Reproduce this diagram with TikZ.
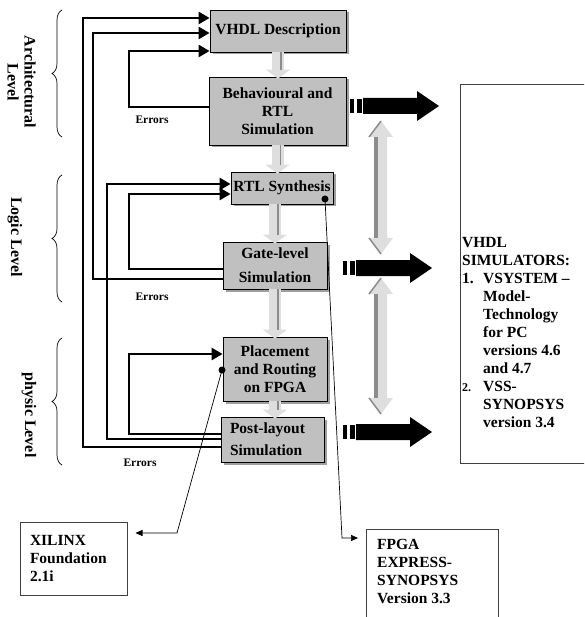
\documentclass[tikz,border=0pt]{standalone}
\usepackage{fontspec}
\setmainfont{Liberation Serif}
\usetikzlibrary{arrows.meta,shadows,decorations.pathreplacing}
\definecolor{boxgray}{RGB}{192,192,192}
\definecolor{lgray}{RGB}{222,222,222}
\definecolor{dgray}{RGB}{140,140,140}
\newcommand\bxfont{\fontsize{15.5}{18}\selectfont\bfseries}
\newcommand\smfont{\fontsize{11.5}{13}\selectfont\bfseries}
\newcommand\blkarrow[2]{%
  \fill[black] (#1,{#2-7}) rectangle ++(4,14);
  \fill[black] ({#1+7},{#2-7}) rectangle ++(5,14);
  \fill[black] ({#1+13},{#2-8}) -- ({#1+67},{#2-8}) -- ({#1+67},{#2-15}) -- ({#1+89},#2)
     -- ({#1+67},{#2+15}) -- ({#1+67},{#2+8}) -- ({#1+13},{#2+8}) -- cycle;}
\newcommand\gdarrow[2]{%
  \fill[lgray] (381,#1) -- (393,{#1+16}) -- (387,{#1+16}) -- (387,{#2-16}) -- (393,{#2-16})
     -- (381,#2) -- (369,{#2-16}) -- (374,{#2-16}) -- (374,{#1+16}) -- (369,{#1+16}) -- cycle;
  \fill[dgray] (374,{#1+16}) rectangle (378,{#2-16});
  \draw[dgray, line width=1.5pt] (369,{#1+16}) -- (381,#1);
  \draw[dgray, line width=1.5pt] (369,{#2-16}) -- (381,#2);}
\begin{document}
\begin{tikzpicture}[x=1pt,y=-1pt,
  stagebox/.style={draw=black, line width=0.8pt, fill=boxgray, inner sep=0pt, align=center, font=\bxfont,
     drop shadow={shadow xshift=2.5pt, shadow yshift=-2.5pt, fill=gray!75, opacity=1}},
  fb/.style={line width=2.5pt},
  fbarrow/.style={fb, -{Triangle[length=11pt,width=12pt]}},
  thinarrow/.style={line width=0.7pt, -{Triangle[length=7pt,width=6pt]}, shorten >=8pt},
  dot/.style={circle, fill=black, inner sep=0pt, minimum size=7pt},
  infobox/.style={draw=black!75, line width=1pt, inner sep=0pt},
  infotext/.style={font=\bxfont, align=left, inner sep=0pt, anchor=north west},
  levelbrace/.style={decorate, decoration={brace, amplitude=10pt}, line width=0.7pt},
  levellabel/.style={rotate=-90, align=center, font=\fontsize{16}{17}\selectfont\bfseries},
  errlabel/.style={font=\smfont},
  garrow/.style={lgray, line width=12pt, -{Triangle[length=9pt,width=24pt]}},
]
\useasboundingbox (0,0) rectangle (584,617);
\clip (0,0) rectangle (584,617);

% stage boxes
\node[stagebox, minimum width=136, minimum height=42] (vhdl) at (278,31) {VHDL Description};
\node[stagebox, minimum width=137, minimum height=68] (beh) at (277.5,111) {Behavioural and\\RTL\\Simulation};
\node[stagebox, minimum width=102, minimum height=32] (rtl) at (282,188) {RTL Synthesis};
\node[stagebox, minimum width=104, minimum height=47] (gate) at (275,265.5) {Gate-level\\[6pt]Simulation};
\node[stagebox, minimum width=104, minimum height=64] (place) at (275,369) {Placement\\and Routing\\on FPGA};
\node[stagebox, minimum width=103, minimum height=45, text width=85pt, align=left, inner xsep=9pt] (post) at (272.5,439.5) {Post-layout\\[4pt]Simulation};

% gray flow arrows between stages
\coordinate (a1s) at (vhdl.south);
\coordinate (a1e) at ([yshift=-2pt]vhdl.south |- beh.north);
\coordinate (a2s) at (beh.south);
\coordinate (a2e) at ([yshift=-2pt]beh.south |- rtl.north);
\coordinate (a3s) at (gate.north |- rtl.south);
\coordinate (a3e) at ([yshift=-2pt]gate.north);
\coordinate (a4s) at (gate.south);
\coordinate (a4e) at ([yshift=-2pt]place.north);
\coordinate (a5s) at (place.south);
\coordinate (a5e) at ([yshift=-2pt]place.south |- post.north);
\foreach \s/\e in {a1s/a1e, a2s/a2e, a3s/a3e, a4s/a4e, a5s/a5e}{
  \draw[garrow] (\s) -- (\e);
  \draw[dgray, line width=1.2pt] ([xshift=3pt]\s) -- ([xshift=3pt, yshift=9pt]\e);
}

% feedback loops
\draw[fbarrow] (post.west |- 0,447) -- (83,447) -- (83,18) -- (vhdl.west |- 0,18);
\draw[fbarrow] (gate.west |- 0,279) -- (93,279) -- (93,33) -- (vhdl.west |- 0,33);
\draw[fbarrow] (beh.west |- 0,107) -- (129,107) -- (129,51) -- (vhdl.west |- 0,51);
\draw[fbarrow] (post.west |- 0,439) -- (107,439) -- (107,184) -- (rtl.west |- 0,184);
\draw[fbarrow] (gate.west |- 0,269) -- (129,269) -- (129,194) -- (rtl.west |- 0,194);
\draw[fbarrow] (post.west |- 0,434) -- (129,434) -- (129,354) -- (place.west |- 0,354);

\node[errlabel] (err1) at (152,120) {Errors};
\node[errlabel] (err2) at (152,297) {Errors};
\node[errlabel] (err3) at (140,463) {Errors};

% level braces and labels
\draw[levelbrace] (62,137) -- (62,10);
\draw[levelbrace] (62,302) -- (62,175);
\draw[levelbrace] (62,465) -- (62,338);
\node[levellabel] (archlbl) at (21.5,82) {Architectural\\Level};
\node[levellabel] (logiclbl) at (15,237) {Logic Level};
\node[levellabel] (physlbl) at (29,415) {physic Level};

% black arrows to simulators
\blkarrow{350}{106}
\blkarrow{343}{268}
\blkarrow{343}{432}

% gray double arrows
\gdarrow{121}{254}
\gdarrow{278}{414}

% simulators box
\node[infobox, minimum width=140, minimum height=379, anchor=north west] (sim) at (460,84) {};
\node[infotext] (simtext) at (462,237) {VHDL\\SIMULATORS:\\\makebox[21pt][l]{1.}VSYSTEM --\\\hspace*{21pt}Model-\\\hspace*{21pt}Technology\\\hspace*{21pt}for PC\\\hspace*{21pt}versions 4.6\\\hspace*{21pt}and 4.7\\\makebox[21pt][l]{\fontsize{12}{14}\selectfont 2.}VSS-\\\hspace*{21pt}SYNOPSYS\\\hspace*{21pt}version 3.4};

% tool boxes
\node[infobox, minimum width=107, minimum height=73, text width=87pt, align=left, inner xsep=10pt, font=\bxfont] (xil) at (73.5,558.5) {XILINX\\Foundation\\2.1i};
\node[infobox, minimum width=132, minimum height=120, anchor=north west] (fpga) at (366,529) {};
\node[infotext] (fpgatext) at (377,539) {FPGA\\EXPRESS-\\SYNOPSYS\\Version 3.3};

% tool links
\node[dot] (d1) at (325,199) {};
\node[dot] (d2) at (222,370) {};
\draw[thinarrow] (d1.center) -- (342,538) -- (fpga.west |- 0,538);
\draw[thinarrow] (d2.center) -- (177,533) -- (xil.east |- 0,533);
\end{tikzpicture}
\end{document}
